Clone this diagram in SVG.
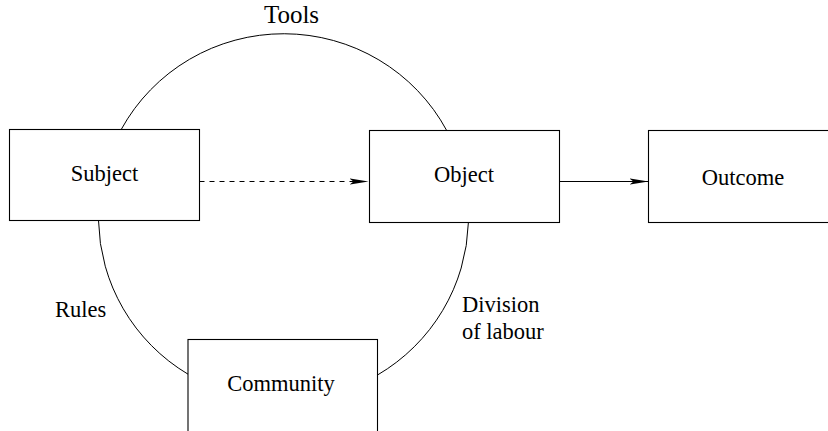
<svg xmlns="http://www.w3.org/2000/svg" width="828" height="431" viewBox="0 0 828 431">
<style>
.box{fill:#fff;stroke:#000;stroke-width:1.1}
text{font-family:'Liberation Serif','Times New Roman',serif;font-size:22.5px;fill:#000}
.c{text-anchor:middle}
.big{font-size:25px}
.arc{fill:none;stroke:#000;stroke-width:1}
.ln{fill:none;stroke:#000;stroke-width:1.1}
</style>
<defs>
<marker id="ah" markerUnits="userSpaceOnUse" markerWidth="20" markerHeight="10" refX="19" refY="5" orient="auto">
<path d="M0,2 L19,5 L0,8 L4,5 Z" fill="#000"/>
</marker>
</defs>
<rect width="828" height="431" fill="#fff"/>
<g id="connectors">
<path id="tools-arc" class="arc" d="M121.2,129.5 A185,183.5 0 0 1 446.7,130.5"/>
<path id="rules-arc" class="arc" d="M98.5,220.5 A185,183.5 0 0 0 188,374.2"/>
<path id="division-arc" class="arc" d="M468.4,222.5 A185,183.5 0 0 1 377.5,375"/>
<line class="ln" x1="199.5" y1="181.5" x2="368.5" y2="181.5" stroke-dasharray="5,5" marker-end="url(#ah)"/>
<line class="ln" x1="559.5" y1="181.5" x2="648.5" y2="181.5" marker-end="url(#ah)"/>
<text class="c big" x="291.5" y="23">Tools</text>
<text x="55" y="317">Rules</text>
<text x="462" y="312">Division</text>
<text x="462" y="338.5">of labour</text>
</g>
<g id="subject">
<rect class="box" x="9.5" y="129.5" width="190" height="91"/>
<text class="c" x="104.5" y="181">Subject</text>
</g>
<g id="object">
<rect class="box" x="369.5" y="130.5" width="190" height="92"/>
<text class="c" x="464" y="182">Object</text>
</g>
<g id="outcome">
<rect class="box" x="648.5" y="130.5" width="189" height="92"/>
<text class="c" x="743" y="185">Outcome</text>
</g>
<g id="community">
<rect class="box" x="188" y="339.5" width="189.5" height="100"/>
<text class="c" x="281" y="391">Community</text>
</g>
</svg>
